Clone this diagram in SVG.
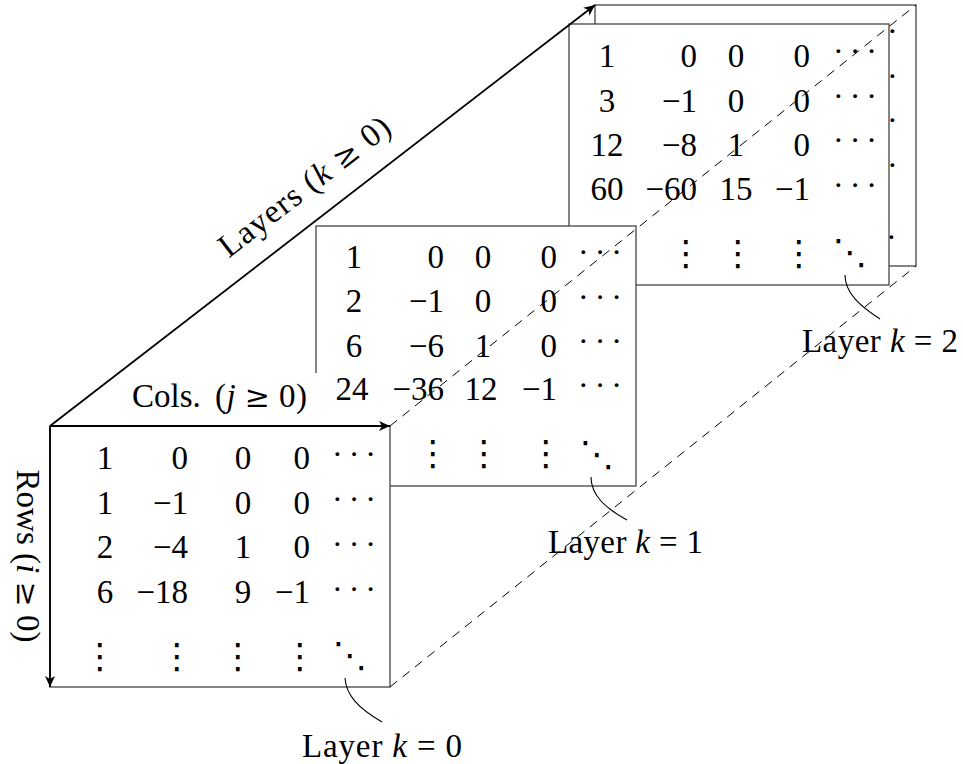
<svg xmlns="http://www.w3.org/2000/svg" width="963" height="764" viewBox="0 0 963 764">
<style>
.box{fill:#fff;stroke:#444;stroke-width:1.3}
.t{font-family:"Liberation Serif",serif;font-size:33px;fill:#000}
.m{text-anchor:middle}
.e{text-anchor:end}
.c{font-family:"Liberation Serif",serif;font-size:32px;fill:#000;letter-spacing:6px}
.p{font-family:"Liberation Serif",serif;font-size:32px;fill:#000}
.d{font-family:"DejaVu Sans",sans-serif;font-size:35px;fill:#000;text-anchor:middle}
.i{font-style:italic}
.op{font-family:"DejaVu Serif",serif;font-size:30px}
.ax{stroke:#000;stroke-width:1.8;fill:none}
.dash{stroke:#000;stroke-width:1;fill:none;stroke-dasharray:9 7}
.lead{stroke:#000;stroke-width:1.1;fill:none}
</style>
<defs>
<marker id="ah" markerUnits="userSpaceOnUse" viewBox="-12 -6 13 12" refX="0" refY="0" markerWidth="13" markerHeight="12" orient="auto">
<path d="M0,0 L-11,-5 L-8,0 L-11,5 Z" fill="#000"/>
</marker>
</defs>

<g id="layer3">
<rect class="box" x="595" y="5" width="321" height="261"/>
<text class="p" x="887" y="42">·</text>
<text class="p" x="887" y="87">·</text>
<text class="p" x="887" y="131">·</text>
<text class="p" x="887" y="176">·</text>
<text class="p" x="886" y="248">·</text>
</g>

<g id="layer2">
<rect class="box" x="569" y="24" width="320" height="261"/>
<g class="t">
<text class="m" x="607" y="67">1</text><text class="e" x="697" y="67">0</text><text class="m" x="736" y="67">0</text><text class="e" x="810" y="67">0</text>
<text class="m" x="607" y="112">3</text><text class="e" x="697" y="112">−1</text><text class="m" x="736" y="112">0</text><text class="e" x="810" y="112">0</text>
<text class="m" x="607" y="156">12</text><text class="e" x="697" y="156">−8</text><text class="m" x="736" y="156">1</text><text class="e" x="810" y="156">0</text>
<text class="m" x="607" y="200">60</text><text class="e" x="697" y="200">−60</text><text class="m" x="736" y="200">15</text><text class="e" x="810" y="200">−1</text>
</g>
<text class="c" x="833" y="62">···</text>
<text class="c" x="833" y="107">···</text>
<text class="c" x="833" y="151">···</text>
<text class="c" x="833" y="196">···</text>
<text class="d" x="686" y="265">⋮</text>
<text class="d" x="738" y="265">⋮</text>
<text class="d" x="799" y="265">⋮</text>
<text class="d" x="850" y="264">⋱</text>
</g>

<g id="layer1">
<rect class="box" x="316" y="226" width="320" height="260"/>
<g class="t">
<text class="m" x="354" y="268">1</text><text class="e" x="444" y="268">0</text><text class="m" x="483" y="268">0</text><text class="e" x="557" y="268">0</text>
<text class="m" x="354" y="312">2</text><text class="e" x="444" y="312">−1</text><text class="m" x="483" y="312">0</text><text class="e" x="557" y="312">0</text>
<text class="m" x="354" y="357">6</text><text class="e" x="444" y="357">−6</text><text class="m" x="483" y="357">1</text><text class="e" x="557" y="357">0</text>
<text class="m" x="352" y="400">24</text><text class="e" x="444" y="400">−36</text><text class="m" x="481" y="400">12</text><text class="e" x="557" y="400">−1</text>
</g>
<text class="c" x="578" y="263">···</text>
<text class="c" x="578" y="308">···</text>
<text class="c" x="578" y="352">···</text>
<text class="c" x="578" y="396">···</text>
<text class="d" x="433" y="465">⋮</text>
<text class="d" x="484" y="465">⋮</text>
<text class="d" x="546" y="465">⋮</text>
<text class="d" x="597" y="466">⋱</text>
</g>

<g id="cols-label">
<rect x="120" y="373" width="202" height="52" fill="#fff"/>
<text class="t" x="132" y="407">Cols.</text>
<text class="t" x="215" y="407" textLength="92" lengthAdjust="spacing">(<tspan class="i">j</tspan> <tspan class="op">≥</tspan> 0)</text>
</g>

<g id="layer0">
<rect class="box" x="50" y="426" width="340" height="261"/>
<g class="t">
<text class="m" x="105" y="469">1</text><text class="e" x="188" y="469">0</text><text class="m" x="243" y="469">0</text><text class="e" x="310" y="469">0</text>
<text class="m" x="105" y="514">1</text><text class="e" x="188" y="514">−1</text><text class="m" x="243" y="514">0</text><text class="e" x="310" y="514">0</text>
<text class="m" x="105" y="558">2</text><text class="e" x="188" y="558">−4</text><text class="m" x="243" y="558">1</text><text class="e" x="310" y="558">0</text>
<text class="m" x="105" y="603">6</text><text class="e" x="188" y="603">−18</text><text class="m" x="243" y="603">9</text><text class="e" x="310" y="603">−1</text>
</g>
<text class="c" x="332" y="465">···</text>
<text class="c" x="332" y="510">···</text>
<text class="c" x="332" y="555">···</text>
<text class="c" x="332" y="600">···</text>
<text class="d" x="100" y="668">⋮</text>
<text class="d" x="177" y="668">⋮</text>
<text class="d" x="238" y="668">⋮</text>
<text class="d" x="300" y="668">⋮</text>
<text class="d" x="350" y="667">⋱</text>
</g>

<g id="connectors">
<path class="ax" d="M50,426 L595,5" marker-end="url(#ah)"/>
<path class="ax" d="M50,426 L390,426" marker-end="url(#ah)"/>
<path class="ax" d="M50,426 L50,687" marker-end="url(#ah)"/>
<path class="dash" d="M390,426 L916,5"/>
<path class="dash" d="M390,687 L916,266"/>
<path class="lead" d="M345,678 C346,695 358,708 382,722"/>
<path class="lead" d="M591,477 C591,495 605,508 627,520"/>
<path class="lead" d="M845,275 C845,293 860,306 880,319"/>
</g>

<g id="rows-label">
<text class="t m" transform="translate(17,556) rotate(90)" textLength="173" lengthAdjust="spacing">Rows (<tspan class="i">i</tspan> <tspan class="op">≥</tspan> 0)</text>
</g>
<g id="layers-label">
<text class="t m" transform="translate(311,195) rotate(-37.7)" textLength="208" lengthAdjust="spacing">Layers (<tspan class="i">k</tspan> <tspan class="op">≥</tspan> 0)</text>
</g>
<g id="label-k0">
<text class="t" x="302" y="757" textLength="160" lengthAdjust="spacing">Layer <tspan class="i">k</tspan> = 0</text>
</g>
<g id="label-k1">
<text class="t" x="548" y="553" textLength="155" lengthAdjust="spacing">Layer <tspan class="i">k</tspan> = 1</text>
</g>
<g id="label-k2">
<text class="t" x="802" y="352" textLength="156" lengthAdjust="spacing">Layer <tspan class="i">k</tspan> = 2</text>
</g>
</svg>
